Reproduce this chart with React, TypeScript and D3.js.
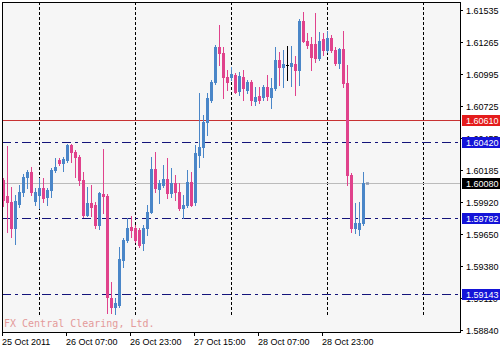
import React from 'react';
import * as d3 from 'd3';

// Hourly bars, 25 Oct 2011 15:00 onward (index 0..90)
const opens = [1.60103,1.59968,1.59918,1.59699,1.59901,1.60002,1.60129,1.60171,1.59926,1.59977,1.60036,1.59960,1.60019,1.60188,1.60272,1.60246,1.60272,1.60398,1.60339,1.60297,1.60103,1.59809,1.59910,1.59893,1.59724,1.59985,1.59968,1.59110,1.59034,1.59051,1.59430,1.59598,1.59707,1.59699,1.59682,1.59573,1.59699,1.59834,1.60196,1.60027,1.60061,1.60112,1.59994,1.60078,1.60002,1.59867,1.59893,1.60086,1.59918,1.60314,1.60381,1.60592,1.60777,1.60929,1.61223,1.61173,1.60971,1.60971,1.60988,1.60853,1.60971,1.60861,1.60929,1.60769,1.60811,1.60802,1.60887,1.60802,1.60878,1.61114,1.61055,1.61072,1.61063,1.61080,1.61030,1.61442,1.61274,1.61249,1.61249,1.61131,1.61291,1.61198,1.61299,1.61198,1.61089,1.61207,1.60920,1.60145,1.59699,1.59691,1.59741];
const highs = [1.60120,1.60390,1.60044,1.59977,1.60061,1.60154,1.60188,1.60213,1.60036,1.60120,1.60120,1.60036,1.60204,1.60289,1.60289,1.60297,1.60407,1.60407,1.60356,1.60314,1.60171,1.60044,1.60061,1.59918,1.60002,1.60364,1.59985,1.59244,1.59110,1.59539,1.59615,1.59783,1.59800,1.59724,1.59699,1.59724,1.59893,1.60297,1.60339,1.60103,1.60230,1.60289,1.60204,1.60145,1.60078,1.59977,1.60188,1.60171,1.60398,1.60836,1.60651,1.60836,1.60946,1.61240,1.61409,1.61223,1.61030,1.61055,1.61004,1.61013,1.61030,1.60946,1.60946,1.60887,1.60887,1.60903,1.60988,1.60962,1.61223,1.61181,1.61198,1.61232,1.61232,1.61148,1.61459,1.61518,1.61341,1.61308,1.61510,1.61350,1.61341,1.61358,1.61324,1.61223,1.61215,1.61358,1.61072,1.60162,1.59910,1.59918,1.60171];
const lows = [1.59884,1.59665,1.59623,1.59564,1.59876,1.59968,1.60036,1.59977,1.59893,1.59867,1.59918,1.59893,1.59960,1.60171,1.60230,1.60179,1.60255,1.60255,1.60129,1.60061,1.59792,1.59800,1.59800,1.59699,1.59691,1.59825,1.58983,1.58983,1.58975,1.59034,1.59371,1.59581,1.59623,1.59581,1.59539,1.59514,1.59640,1.59825,1.60002,1.59910,1.60044,1.59952,1.59960,1.59935,1.59851,1.59783,1.59876,1.59884,1.59893,1.60213,1.60297,1.60482,1.60760,1.60912,1.61072,1.60794,1.60861,1.60946,1.60836,1.60819,1.60777,1.60836,1.60735,1.60735,1.60752,1.60777,1.60777,1.60710,1.60861,1.60903,1.60887,1.60946,1.60895,1.60819,1.60903,1.61266,1.61215,1.61030,1.61097,1.61114,1.61156,1.61181,1.61181,1.61072,1.61047,1.60887,1.60061,1.59665,1.59657,1.59640,1.59724];
const closes = [1.59935,1.59918,1.59699,1.59926,1.60002,1.60129,1.60171,1.60002,1.60002,1.60036,1.59952,1.60019,1.60188,1.60213,1.60246,1.60280,1.60398,1.60339,1.60297,1.60103,1.59809,1.59910,1.59876,1.59724,1.59994,1.59968,1.59118,1.59034,1.59068,1.59438,1.59598,1.59699,1.59682,1.59598,1.59556,1.59699,1.59834,1.60196,1.60036,1.60078,1.60112,1.59994,1.60078,1.60002,1.59867,1.59893,1.60086,1.59893,1.60331,1.60381,1.60592,1.60794,1.60929,1.61223,1.61173,1.60971,1.60929,1.60996,1.60844,1.60979,1.60878,1.60929,1.60777,1.60802,1.60777,1.60887,1.60811,1.60878,1.61114,1.61055,1.61080,1.61072,1.61089,1.61030,1.61442,1.61274,1.61240,1.61139,1.61131,1.61274,1.61198,1.61299,1.61198,1.61089,1.61207,1.60920,1.60145,1.59699,1.59741,1.59741,1.60080];

const priceTicks = [1.61535,1.61265,1.60995,1.60725,1.60455,1.60185,1.59920,1.59650,1.59380,1.59110,1.58840];
const timeLabels = ['25 Oct 2011','26 Oct 07:00','26 Oct 23:00','27 Oct 15:00','28 Oct 07:00','28 Oct 23:00'];
const timeLabelBars = [0,16,32,48,64,80];
const separatorBars = [9,33,57,81,105];
const redLevel = 1.60610;
const blueLevels = [1.60420,1.59782,1.59143];
const lastPrice = 1.60080;
const watermark = 'FX Central Clearing, Ltd.';

const BULL = '#4a86c8';
const BEAR = '#e0428c';
const FONT = '"Liberation Sans", Arial, sans-serif';

export default function App() {
  const left = 2, top = 2, right = 460, bottom = 332;
  const y = d3.scaleLinear().domain([1.58840, 1.61535]).range([330, 10]);
  const x = d3.scaleLinear().domain([0, 1]).range([3, 7]);
  const py = (v: number) => Math.round(y(v));

  const labelBox = (v: number, bg: string, key: string) => {
    const yy = py(v);
    return (
      <g key={key}>
        <rect x={462} y={yy - 5} width={38} height={11} fill={bg} />
        <text x={466} y={yy + 4} fontSize={9} fontFamily={FONT} fill="#fff">{v.toFixed(5)}</text>
      </g>
    );
  };

  return (
    <svg width={500} height={350} style={{ position: 'absolute', left: 0, top: 0, background: '#fff' }}>
      <defs>
        <clipPath id="plot"><rect x={left + 1} y={top + 1} width={right - left - 1} height={bottom - top - 1} /></clipPath>
      </defs>
      <rect x={left} y={top} width={right - left} height={bottom - top} fill="#f6f6f6" />
      <g clipPath="url(#plot)">
        {separatorBars.map(b => (
          <line key={'s' + b} x1={x(b) + 0.5} x2={x(b) + 0.5} y1={top} y2={315} stroke="#000" strokeWidth={1} strokeDasharray="3,2" shapeRendering="crispEdges" />
        ))}
        <line x1={left} x2={right} y1={py(lastPrice) + 0.5} y2={py(lastPrice) + 0.5} stroke="#bbbbbb" shapeRendering="crispEdges" />
        <line x1={left} x2={right} y1={py(redLevel) + 0.5} y2={py(redLevel) + 0.5} stroke="#c83232" shapeRendering="crispEdges" />
        {blueLevels.map(v => (
          <line key={'b' + v} x1={left} x2={right} y1={py(v) + 0.5} y2={py(v) + 0.5} stroke="#14147a" strokeDasharray="9,4,3,4" shapeRendering="crispEdges" />
        ))}
        <text x={4} y={327} fontSize={10} fontFamily='"DejaVu Sans Mono", monospace' fill="#e49a9a">{watermark}</text>
        {opens.map((o, k) => {
          const c = closes[k];
          const col = x(k);
          const doji = o === c;
          const color = doji ? '#000' : c > o ? BULL : BEAR;
          const yh = py(highs[k]);
          const yl = py(lows[k]);
          const yo = py(o);
          const yc = py(c);
          const bt = Math.min(yo, yc);
          const bh = Math.max(1, Math.abs(yo - yc) + 1);
          return (
            <g key={'c' + k} shapeRendering="crispEdges">
              <rect x={col} y={yh} width={1} height={yl - yh + 1} fill={color} />
              <rect x={col - 1} y={bt} width={3} height={bh} fill={color} />
            </g>
          );
        })}
        <rect x={x(90) + 3} y={py(lastPrice) - 1} width={3} height={3} fill="#7080a0" opacity={0.6} />
      </g>
      <rect x={left + 0.5} y={top + 0.5} width={right - left} height={bottom - top} fill="none" stroke="#000" shapeRendering="crispEdges" />
      {priceTicks.map(v => (
        <g key={'t' + v}>
          <line x1={right} x2={right + 3} y1={py(v) + 0.5} y2={py(v) + 0.5} stroke="#000" shapeRendering="crispEdges" />
          <text x={466} y={py(v) + 4} fontSize={9} fontFamily={FONT} fill="#000">{v.toFixed(5)}</text>
        </g>
      ))}
      {labelBox(redLevel, '#e41c1c', 'lr')}
      {labelBox(blueLevels[0], '#1414d8', 'lb0')}
      {labelBox(lastPrice, '#000', 'lp')}
      {labelBox(blueLevels[1], '#1414d8', 'lb1')}
      {labelBox(blueLevels[2], '#1414d8', 'lb2')}
      {timeLabelBars.map((b, i) => (
        <g key={'x' + b}>
          <line x1={x(b) - 0.5} x2={x(b) - 0.5} y1={bottom} y2={bottom + 4} stroke="#000" shapeRendering="crispEdges" />
          <text x={x(b) - 1} y={345} fontSize={9} fontFamily={FONT} fill="#000">{timeLabels[i]}</text>
        </g>
      ))}
    </svg>
  );
}
